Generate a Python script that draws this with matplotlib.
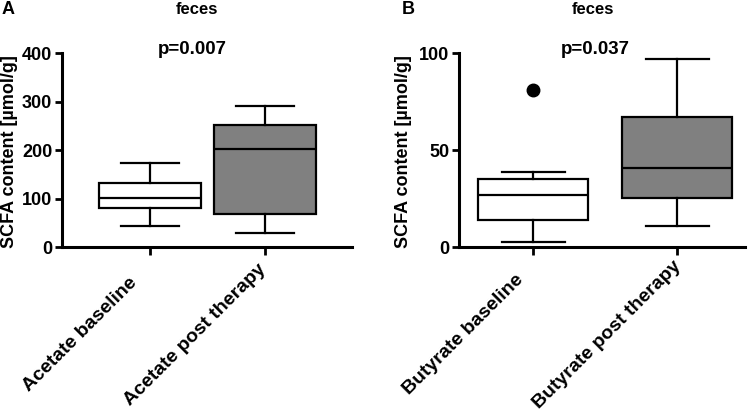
import matplotlib.pyplot as plt
import matplotlib.transforms as mtransforms

plt.rcParams['font.family'] = ['Liberation Sans', 'DejaVu Sans']
plt.rcParams['font.weight'] = 'bold'

# box statistics: low whisker, q1, median, q3, high whisker
acetate_labels = ['Acetate baseline', 'Acetate post therapy']
acetate_low = [43, 28]
acetate_q1 = [80, 69]
acetate_med = [102, 202]
acetate_q3 = [133, 252]
acetate_high = [174, 290]
acetate_fliers = [[], []]

butyrate_labels = ['Butyrate baseline', 'Butyrate post therapy']
butyrate_low = [2.4, 11]
butyrate_q1 = [14, 25.4]
butyrate_med = [27, 40.5]
butyrate_q3 = [35, 67]
butyrate_high = [38.5, 97]
butyrate_fliers = [[81], []]

fills = ['white', '#808080']


def make_stats(labels, low, q1, med, q3, high, fliers):
    stats = []
    for i in range(len(labels)):
        stats.append({'label': labels[i], 'whislo': low[i], 'q1': q1[i], 'med': med[i],
                      'q3': q3[i], 'whishi': high[i], 'fliers': fliers[i]})
    return stats


def draw_panel(ax, stats, width, ylim, yticks, xlim, label_x):
    bp = ax.bxp(stats, positions=[1, 2], widths=width, patch_artist=True,
                boxprops=dict(linewidth=1.6, edgecolor='black'),
                medianprops=dict(color='black', linewidth=1.6),
                whiskerprops=dict(color='black', linewidth=1.6),
                capprops=dict(color='black', linewidth=1.6),
                flierprops=dict(marker='o', markerfacecolor='black', markeredgecolor='black',
                                markersize=9))
    for patch, c in zip(bp['boxes'], fills):
        patch.set_facecolor(c)
    for cap in bp['caps']:
        x0, x1 = cap.get_xdata()
        mid = (x0 + x1) / 2
        cap.set_xdata([mid - width / 3.5, mid + width / 3.5])
    ax.set_xlim(*xlim)
    ax.set_ylim(*ylim)
    ax.set_yticks(yticks)
    ax.spines['top'].set_visible(False)
    ax.spines['right'].set_visible(False)
    ax.spines['left'].set_linewidth(2.2)
    ax.spines['bottom'].set_linewidth(2.2)
    ax.tick_params(axis='y', width=2, length=5, labelsize=13, pad=2)
    ax.tick_params(axis='x', width=2, length=6, labelsize=14, pad=57)
    ax.set_xticks([1, 2])
    ax.set_xticklabels([s['label'] for s in stats], rotation=45, ha='center', va='center',
                       fontsize=14, fontweight='bold')
    shift = mtransforms.ScaledTranslation(-0.70, 0, fig.dpi_scale_trans)
    for lab in ax.get_xticklabels():
        lab.set_transform(lab.get_transform() + shift)
    for lab in ax.get_yticklabels():
        lab.set_fontweight('bold')
    ax.set_ylabel('SCFA content [µmol/g]', fontsize=13, fontweight='bold')
    ax.yaxis.set_label_coords(label_x, 0.49)


fig = plt.figure(figsize=(7.5, 4.11), dpi=100)
axA = fig.add_axes([0.0827, 0.399, 0.3866, 0.472])
axB = fig.add_axes([0.612, 0.399, 0.381, 0.472])

draw_panel(axA, make_stats(acetate_labels, acetate_low, acetate_q1, acetate_med, acetate_q3,
                           acetate_high, acetate_fliers),
           0.887, (0, 400), [0, 100, 200, 300, 400], (0.235, 2.757), -0.152)
draw_panel(axB, make_stats(butyrate_labels, butyrate_low, butyrate_q1, butyrate_med, butyrate_q3,
                           butyrate_high, butyrate_fliers),
           0.766, (0, 100), [0, 50, 100], (0.483, 2.469), -0.165)

fig.text(2 / 750, 1 - 10 / 411, 'A', fontsize=13, fontweight='bold', va='center')
fig.text(402 / 750, 1 - 10 / 411, 'B', fontsize=13, fontweight='bold', va='center')
fig.text(197 / 750, 1 - 9 / 411, 'feces', fontsize=12, fontweight='bold', ha='center', va='center')
fig.text(593 / 750, 1 - 9 / 411, 'feces', fontsize=12, fontweight='bold', ha='center', va='center')
fig.text(192 / 750, 1 - 50 / 411, 'p=0.007', fontsize=13.5, fontweight='bold', ha='center', va='center')
fig.text(595 / 750, 1 - 50 / 411, 'p=0.037', fontsize=13.5, fontweight='bold', ha='center', va='center')

fig.savefig('out.png', dpi=100)
